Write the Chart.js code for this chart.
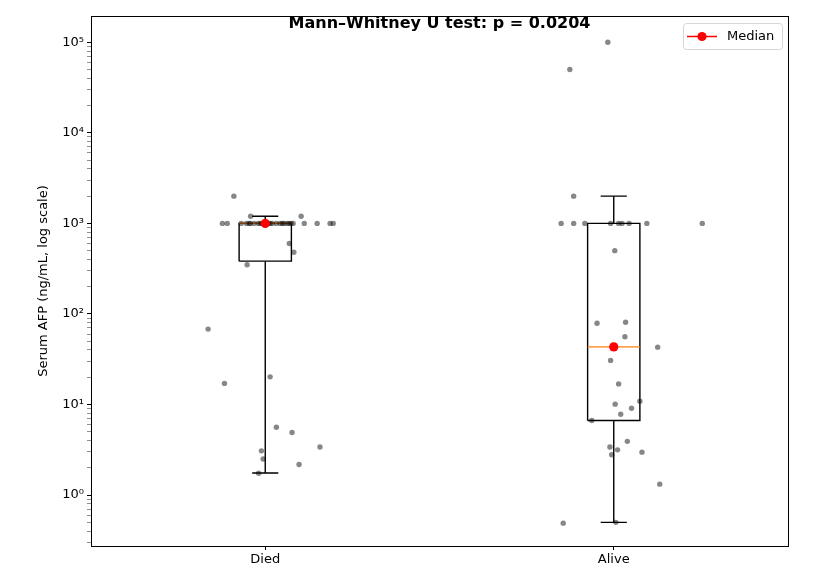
<!DOCTYPE html>
<html>
<head>
<meta charset="utf-8">
<script src="https://cdn.jsdelivr.net/npm/chart.js@4.4.1/dist/chart.umd.min.js"></script>
<style>
html, body { margin: 0; padding: 0; background: #fff; }
#wrap { width: 825px; height: 570px; }
</style>
</head>
<body>
<div id="wrap"><canvas id="chartBox"></canvas></div>
<script>
// groups on the x axis
const groups = ["Died", "Alive"];
const groupPos = [1, 2];

// jittered points
const diedX = [0.910, 0.958, 1.103,
    0.877, 0.891, 0.931, 0.946, 0.954, 0.957, 0.968, 0.980, 0.986, 0.991, 1.000, 1.009, 1.014,
    1.020, 1.032, 1.043, 1.049, 1.054, 1.063, 1.069, 1.074, 1.080, 1.112, 1.149, 1.186, 1.195,
    1.069, 1.082, 0.948, 0.836, 0.883, 1.014, 1.032, 1.077, 1.157, 0.989, 0.994, 1.097, 0.981];
const diedY = [2000, 1200, 1200,
    1000, 1000, 1000, 1000, 1000, 1000, 1000, 1000, 1000, 1000, 1000, 1000, 1000,
    1000, 1000, 1000, 1000, 1000, 1000, 1000, 1000, 1000, 1000, 1000, 1000, 1000,
    600, 480, 350, 68, 17.1, 20.2, 5.6, 4.9, 3.4, 3.08, 2.5, 2.18, 1.74];
const aliveX = [1.983, 1.874, 1.885,
    1.849, 1.885, 1.917, 1.991, 2.014, 2.024, 2.044, 2.095, 2.254,
    2.003, 1.952, 2.034, 2.032, 2.126, 2.000, 1.991, 2.014, 2.004, 2.051, 2.075, 2.020,
    1.937, 2.039, 1.989, 2.011, 1.994, 2.081, 2.132, 1.855, 2.006];
const aliveY = [100000, 50000, 2000,
    1000, 1000, 1000, 1000, 1000, 1000, 1000, 1000, 1000,
    500, 79, 81, 56, 43, 43.3, 30.7, 16.9, 10.1, 9.1, 10.9, 7.8,
    6.67, 3.92, 3.39, 3.16, 2.79, 2.98, 1.32, 0.49, 0.5];

// box statistics per group
const q1 = [383, 6.67];
const medians = [1000, 43.3];
const q3 = [1000, 1000];
const whiskerLow = [1.75, 0.5];
const whiskerHigh = [1200, 2000];

// y tick labels
const yMajorTicks = [1, 10, 100, 1000, 10000, 100000];
const yTickLabels = ["10⁰", "10¹", "10²", "10³", "10⁴", "10⁵"];

Chart.defaults.font.family = "'DejaVu Sans', sans-serif";
Chart.defaults.font.size = 13;
Chart.defaults.color = "#000";

const halfBox = 0.075;
const halfCap = 0.0375;

function lineSet(points, color, order) {
    return {
        type: "scatter",
        data: points,
        showLine: true,
        borderColor: color,
        borderWidth: 1.4,
        pointRadius: 0,
        fill: false,
        order: order,
    };
}

const datasets = [];
groupPos.forEach(function(x, i) {
    datasets.push(lineSet([
        {x: x - halfBox, y: q1[i]}, {x: x + halfBox, y: q1[i]},
        {x: x + halfBox, y: q3[i]}, {x: x - halfBox, y: q3[i]},
        {x: x - halfBox, y: q1[i]}
    ], "#000", 4));
    datasets.push(lineSet([
        {x: x, y: q1[i]}, {x: x, y: whiskerLow[i]},
        {x: x - halfCap, y: whiskerLow[i]}, {x: x + halfCap, y: whiskerLow[i]}
    ], "#000", 4));
    datasets.push(lineSet([
        {x: x, y: q3[i]}, {x: x, y: whiskerHigh[i]},
        {x: x - halfCap, y: whiskerHigh[i]}, {x: x + halfCap, y: whiskerHigh[i]}
    ], "#000", 4));
    datasets.push(lineSet([
        {x: x - halfBox, y: medians[i]}, {x: x + halfBox, y: medians[i]}
    ], "#ff7f0e", 3));
});

function pointsOf(xs, ys) {
    return xs.map(function(x, i) { return {x: x, y: ys[i]}; });
}

datasets.push({
    type: "scatter", label: "Died", data: pointsOf(diedX, diedY),
    backgroundColor: "rgba(0,0,0,0.47)", borderWidth: 0, pointRadius: 2.7, order: 2,
});
datasets.push({
    type: "scatter", label: "Alive", data: pointsOf(aliveX, aliveY),
    backgroundColor: "rgba(0,0,0,0.47)", borderWidth: 0, pointRadius: 2.7, order: 2,
});
datasets.push({
    type: "scatter", label: "Median", data: pointsOf(groupPos, medians),
    backgroundColor: "red", borderColor: "red", borderWidth: 0, pointRadius: 4.6,
    pointStyle: "circle", order: 1,
});

const decorPlugin = {
    id: "decor",
    afterDraw(chart) {
        const ctx = chart.ctx;
        const a = chart.chartArea;
        ctx.save();
        ctx.strokeStyle = "#000";
        ctx.lineWidth = 1;
        ctx.strokeRect(a.left + 0.5, a.top + 0.5, a.right - a.left, a.bottom - a.top);

        // legend box, upper right
        const lx = a.right - 105, ly = a.top + 7, lw = 99, lh = 26;
        ctx.fillStyle = "rgba(255,255,255,0.8)";
        ctx.strokeStyle = "#d6d6d6";
        ctx.beginPath();
        ctx.roundRect(lx + 0.5, ly + 0.5, lw, lh, 3);
        ctx.fill();
        ctx.stroke();
        const cy = ly + 13.5;
        ctx.strokeStyle = "red";
        ctx.lineWidth = 1.5;
        ctx.beginPath(); ctx.moveTo(lx + 4, cy); ctx.lineTo(lx + 34, cy); ctx.stroke();
        ctx.fillStyle = "red";
        ctx.beginPath(); ctx.arc(lx + 19, cy, 4.6, 0, Math.PI * 2); ctx.fill();
        ctx.fillStyle = "#000";
        ctx.font = "13px 'DejaVu Sans', sans-serif";
        ctx.textAlign = "left";
        ctx.textBaseline = "middle";
        ctx.fillText(chart.data.datasets[chart.data.datasets.length - 1].label, lx + 44, cy);

        // title
        ctx.font = "bold 16px 'DejaVu Sans', sans-serif";
        ctx.textAlign = "center";
        ctx.fillText("Mann–Whitney U test: p = 0.0204", (a.left + a.right) / 2, 24);
        ctx.restore();
    }
};

new Chart(document.getElementById("chartBox"), {
    type: "scatter",
    data: { datasets: datasets },
    options: {
        responsive: true,
        maintainAspectRatio: false,
        animation: false,
        layout: { padding: { left: 32, right: 37, top: 16, bottom: 0 } },
        plugins: {
            legend: { display: false },
            tooltip: { enabled: false },
        },
        scales: {
            x: {
                type: "linear",
                min: 0.5,
                max: 2.5,
                afterBuildTicks: function(scale) {
                    scale.ticks = groupPos.map(function(v) { return {value: v}; });
                },
                afterFit: function(scale) { scale.height = 24; },
                ticks: {
                    padding: 2,
                    callback: function(v) { return groups[groupPos.indexOf(v)]; },
                },
                grid: { drawOnChartArea: false, drawTicks: true, tickLength: 4, tickColor: "#000" },
                border: { color: "#000" },
            },
            y: {
                type: "logarithmic",
                min: 0.274,
                max: 195000,
                afterBuildTicks: function(scale) {
                    const t = [];
                    for (let e = -1; e <= 5; e++) {
                        for (let m = 1; m <= 9; m++) {
                            const v = m * Math.pow(10, e);
                            if (v >= scale.min && v <= scale.max) t.push({value: v});
                        }
                    }
                    scale.ticks = t;
                },
                afterFit: function(scale) { scale.width = 59; },
                ticks: {
                    padding: 3,
                    autoSkip: false,
                    callback: function(v) {
                        const k = yMajorTicks.indexOf(v);
                        return k >= 0 ? yTickLabels[k] : "";
                    },
                },
                grid: {
                    drawOnChartArea: false, drawTicks: true, tickLength: 4,
                    tickColor: function(c) {
                        return yMajorTicks.indexOf(c.tick.value) >= 0 ? "#000" : "#444";
                    },
                    tickWidth: function(c) {
                        return yMajorTicks.indexOf(c.tick.value) >= 0 ? 1 : 0.6;
                    },
                },
                border: { color: "#000" },
                title: {
                    display: true,
                    text: "Serum AFP (ng/mL, log scale)",
                    font: { size: 13 },
                    padding: { top: 4, bottom: 6 },
                },
            },
        },
    },
    plugins: [decorPlugin],
});
</script>
</body>
</html>
